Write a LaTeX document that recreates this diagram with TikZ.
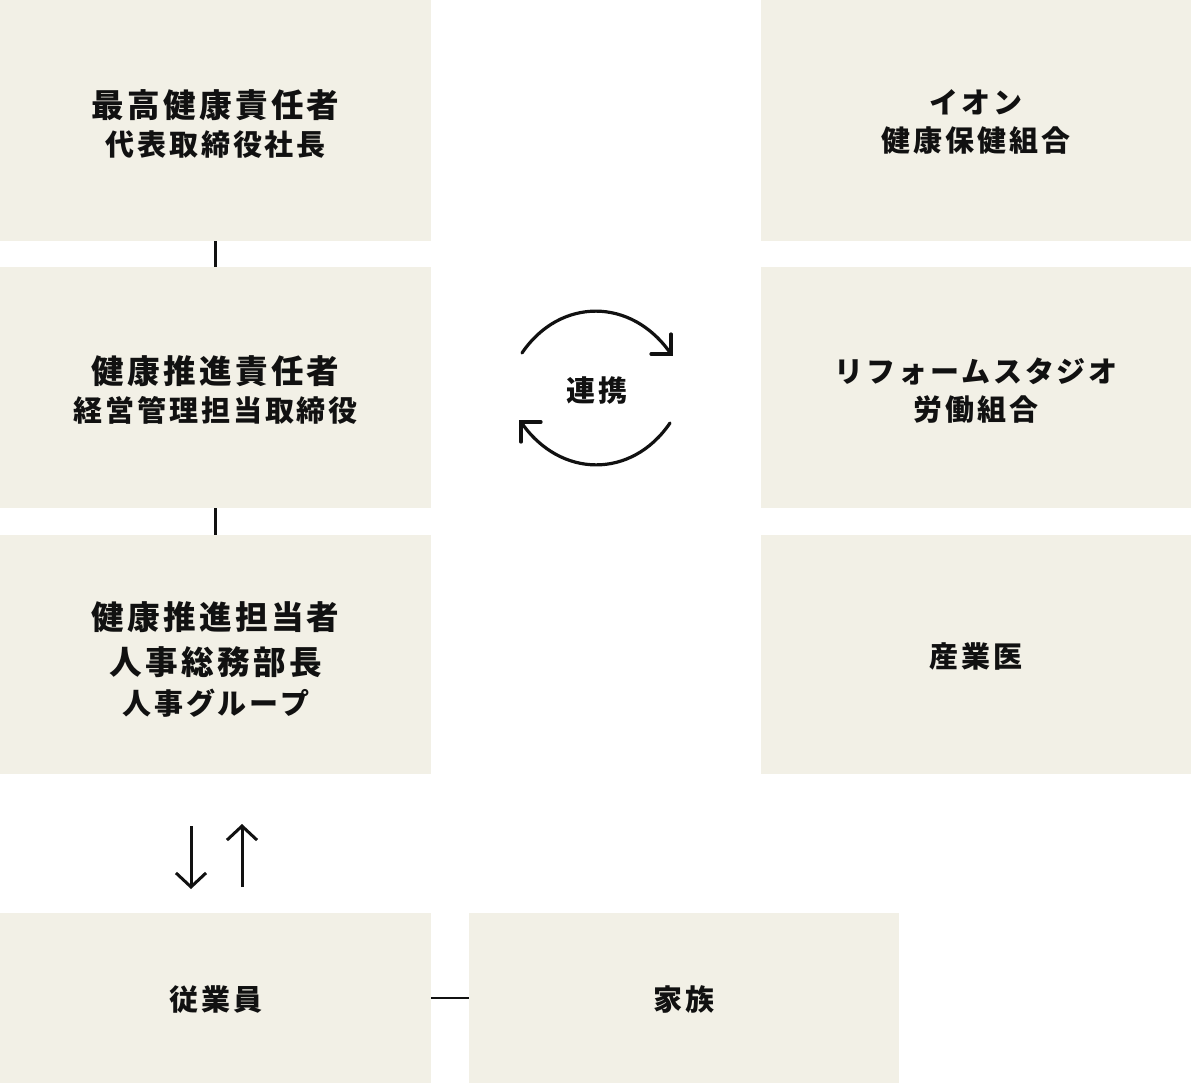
\documentclass[tikz,border=0pt]{standalone}
\usepackage{fontspec}
\setmainfont{Noto Sans CJK JP}[LetterSpace=10]
\usetikzlibrary{arrows.meta}
\definecolor{boxfill}{HTML}{F2F0E6}
\definecolor{ink}{HTML}{111111}
\newcommand\ttlfont{\fontsize{32.6bp}{38bp}\selectfont\bfseries}
\newcommand\subfont{\fontsize{29bp}{38bp}\selectfont\bfseries}
\begin{document}
\begin{tikzpicture}[x=1bp,y=-1bp,
  box/.style={fill=boxfill, draw=none, anchor=north west, inner sep=0pt},
  lbl/.style={text=ink, align=center, inner sep=0pt, font=\subfont},
  link/.style={draw=ink, line width=3bp},
  thin link/.style={draw=ink, line width=2bp},
  swirl/.style={draw=ink, line width=3.2bp, line cap=round, line join=miter},
  updown/.style={draw=ink, line width=3bp, -{Straight Barb[length=14bp,width=30bp]}}]
\useasboundingbox (0,0) rectangle (1191,1083);
% left column
\node[box, minimum width=431bp, minimum height=241bp] (b1) at (0,0) {};
\node[box, minimum width=431bp, minimum height=241bp] (b2) at (0,267) {};
\node[box, minimum width=431bp, minimum height=239bp] (b3) at (0,535) {};
% right column
\node[box, minimum width=430bp, minimum height=241bp] (r1) at (761,0) {};
\node[box, minimum width=430bp, minimum height=241bp] (r2) at (761,267) {};
\node[box, minimum width=430bp, minimum height=239bp] (r3) at (761,535) {};
% bottom row
\node[box, minimum width=431bp, minimum height=170bp] (e1) at (0,913) {};
\node[box, minimum width=430bp, minimum height=170bp] (e2) at (469,913) {};
% texts
\node[lbl] (b1t) at ([yshift=-3bp]b1.center) {{\ttlfont 最高健康責任者}\\代表取締役社長};
\node[lbl] (b2t) at ([yshift=-2.5bp]b2.center) {{\ttlfont 健康推進責任者}\\経営管理担当取締役};
\node[lbl] (b3t) at ([yshift=-4.5bp]b3.center)
  {{\ttlfont 健康推進担当者}\\[7bp]{\ttlfont 人事総務部長}\\[2bp]人事グループ};
\node[lbl] (r1t) at ([yshift=-1.5bp]r1.center) {イオン\\健康保健組合};
\node[lbl] (r2t) at ([yshift=-2.5bp]r2.center) {リフォームスタジオ\\労働組合};
\node[lbl] (r3t) at ([yshift=-1.5bp]r3.center) {産業医};
\node[lbl] (e1t) at ([yshift=-1bp]e1.center) {従業員};
\node[lbl] (e2t) at ([yshift=-1bp]e2.center) {家族};
% connectors
\draw[link] (b1.south) -- (b2.north);
\draw[link] (b2.south) -- (b3.north);
\draw[thin link] (e1.east) -- (e2.west);
% down / up arrows
\coordinate (dA) at (191,826);
\coordinate (dB) at (191,889);
\coordinate (uA) at (242,887);
\coordinate (uB) at (242,824);
\draw[updown] (dA) -- (dB);
\draw[updown] (uA) -- (uB);
% cooperation label and swirl arrows
\node[lbl] (coop) at (597,391) {連携};
\coordinate (t0) at (522,353);
\coordinate (t1) at (671,354);
\coordinate (s0) at (670,423);
\coordinate (s1) at (521,422);
\draw[swirl] (t0) .. controls (560,297) and (632,297) .. (t1);
\draw[swirl] (t1) ++(0,-20) -- (t1) -- ++(-20,0);
\draw[swirl] (s0) .. controls (632,479) and (560,479) .. (s1);
\draw[swirl] (s1) ++(0,20) -- (s1) -- ++(20,0);
\end{tikzpicture}
\end{document}
